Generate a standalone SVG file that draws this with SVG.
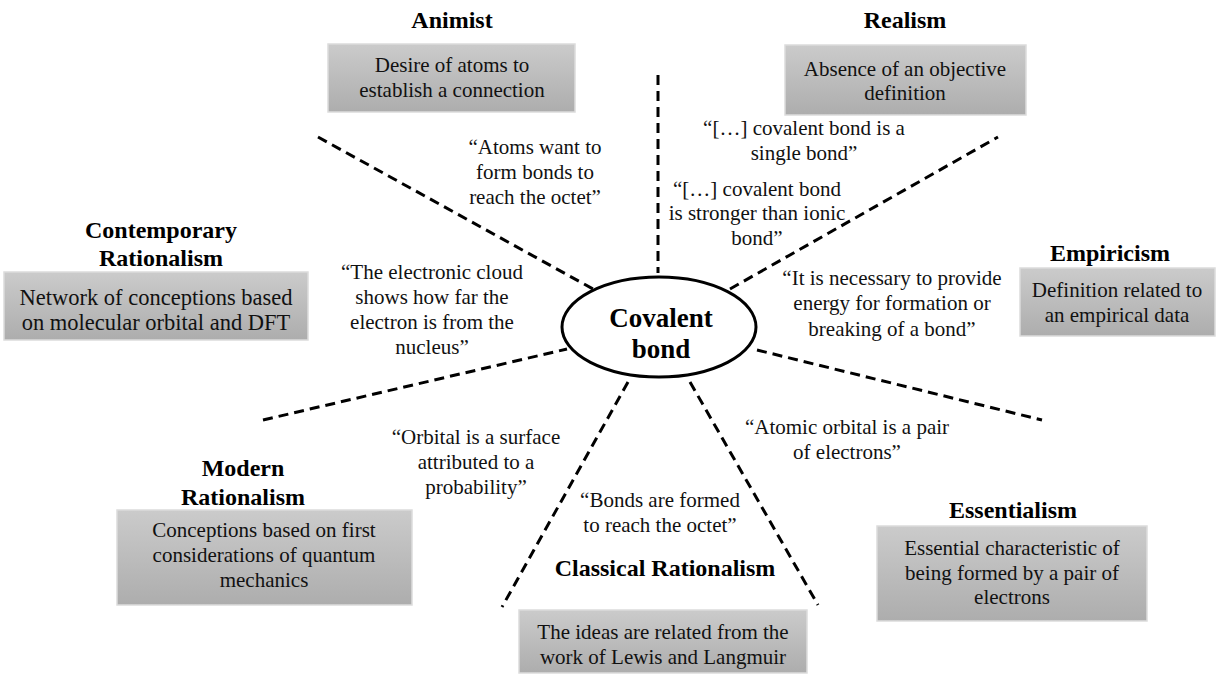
<svg xmlns="http://www.w3.org/2000/svg" width="1225" height="675" viewBox="0 0 1225 675">
<defs>
<linearGradient id="g" x1="0" y1="0" x2="0" y2="1">
<stop offset="0" stop-color="#cbcbcb"/>
<stop offset="1" stop-color="#adadad"/>
</linearGradient>
<style>
.box{fill:url(#g);stroke:#dcdcdc;stroke-width:1.5}
.t{font-family:"Liberation Serif","Times New Roman",serif;font-size:21px;fill:#111;text-anchor:middle}
.h{font-family:"Liberation Serif","Times New Roman",serif;font-size:24px;font-weight:bold;fill:#000;text-anchor:middle}
.c{stroke:#000;stroke-width:3;stroke-dasharray:10 6;fill:none}
</style>
</defs>
<rect width="1225" height="675" fill="#fff"/>
<g id="connectors">
<line class="c" x1="658" y1="75" x2="658" y2="273"/>
<line class="c" x1="318" y1="137" x2="593" y2="289"/>
<line class="c" x1="730" y1="289" x2="998" y2="137"/>
<line class="c" x1="757" y1="350" x2="1042" y2="420"/>
<line class="c" x1="263" y1="420" x2="567" y2="349"/>
<line class="c" x1="628" y1="382" x2="502" y2="607"/>
<line class="c" x1="690" y1="382" x2="818" y2="605"/>
</g>
<g id="center">
<ellipse cx="659" cy="327" rx="97" ry="50" fill="#fff" stroke="#000" stroke-width="3"/>
<text class="h" style="font-size:27px" x="661" y="327">Covalent</text>
<text class="h" style="font-size:27px" x="661" y="358">bond</text>
</g>
<g id="animist">
<text class="h" x="452" y="28">Animist</text>
<rect class="box" x="328" y="44" width="247" height="68"/>
<text class="t" x="452" y="72">Desire of atoms to</text>
<text class="t" x="452" y="97">establish a connection</text>
</g>
<g id="realism">
<text class="h" x="905" y="28">Realism</text>
<rect class="box" x="785" y="45" width="241" height="70"/>
<text class="t" x="905" y="76">Absence of an objective</text>
<text class="t" x="905" y="100">definition</text>
</g>
<g id="contemporary">
<text class="h" x="161" y="238">Contemporary</text>
<text class="h" x="161" y="266">Rationalism</text>
<rect class="box" x="4" y="272" width="304" height="68"/>
<text class="t" style="font-size:22.5px" x="156" y="305">Network of conceptions based</text>
<text class="t" style="font-size:22.5px" x="156" y="330">on molecular orbital and DFT</text>
</g>
<g id="empiricism">
<text class="h" x="1110" y="261">Empiricism</text>
<rect class="box" x="1020" y="268" width="195" height="68"/>
<text class="t" x="1117" y="297">Definition related to</text>
<text class="t" x="1117" y="322">an empirical data</text>
</g>
<g id="modern">
<text class="h" x="243" y="476">Modern</text>
<text class="h" x="243" y="505">Rationalism</text>
<rect class="box" x="117" y="510" width="295" height="95"/>
<text class="t" x="264" y="537">Conceptions based on first</text>
<text class="t" x="264" y="562">considerations of quantum</text>
<text class="t" x="264" y="587">mechanics</text>
</g>
<g id="classical">
<text class="h" x="665" y="576">Classical Rationalism</text>
<rect class="box" x="519" y="610" width="288" height="63"/>
<text class="t" x="663" y="639">The ideas are related from the</text>
<text class="t" x="663" y="664">work of Lewis and Langmuir</text>
</g>
<g id="essentialism">
<text class="h" x="1013" y="518">Essentialism</text>
<rect class="box" x="877" y="526" width="270" height="95"/>
<text class="t" x="1012" y="555">Essential characteristic of</text>
<text class="t" x="1012" y="580">being formed by a pair of</text>
<text class="t" x="1012" y="604">electrons</text>
</g>
<g id="quotes">
<text class="t" x="535" y="154">“Atoms want to</text>
<text class="t" x="535" y="179">form bonds to</text>
<text class="t" x="535" y="204">reach the octet”</text>
<text class="t" x="804" y="135">“[…] covalent bond is a</text>
<text class="t" x="804" y="160">single bond”</text>
<text class="t" x="757" y="196">“[…] covalent bond</text>
<text class="t" x="757" y="220">is stronger than ionic</text>
<text class="t" x="757" y="245">bond”</text>
<text class="t" x="892" y="285">“It is necessary to provide</text>
<text class="t" x="892" y="310">energy for formation or</text>
<text class="t" x="892" y="336">breaking of a bond”</text>
<text class="t" x="432" y="279">“The electronic cloud</text>
<text class="t" x="432" y="304">shows how far the</text>
<text class="t" x="432" y="329">electron is from the</text>
<text class="t" x="432" y="354">nucleus”</text>
<text class="t" x="476" y="444">“Orbital is a surface</text>
<text class="t" x="476" y="469">attributed to a</text>
<text class="t" x="476" y="494">probability”</text>
<text class="t" x="660" y="507">“Bonds are formed</text>
<text class="t" x="660" y="532">to reach the octet”</text>
<text class="t" x="847" y="434">“Atomic orbital is a pair</text>
<text class="t" x="847" y="459">of electrons”</text>
</g>
</svg>
